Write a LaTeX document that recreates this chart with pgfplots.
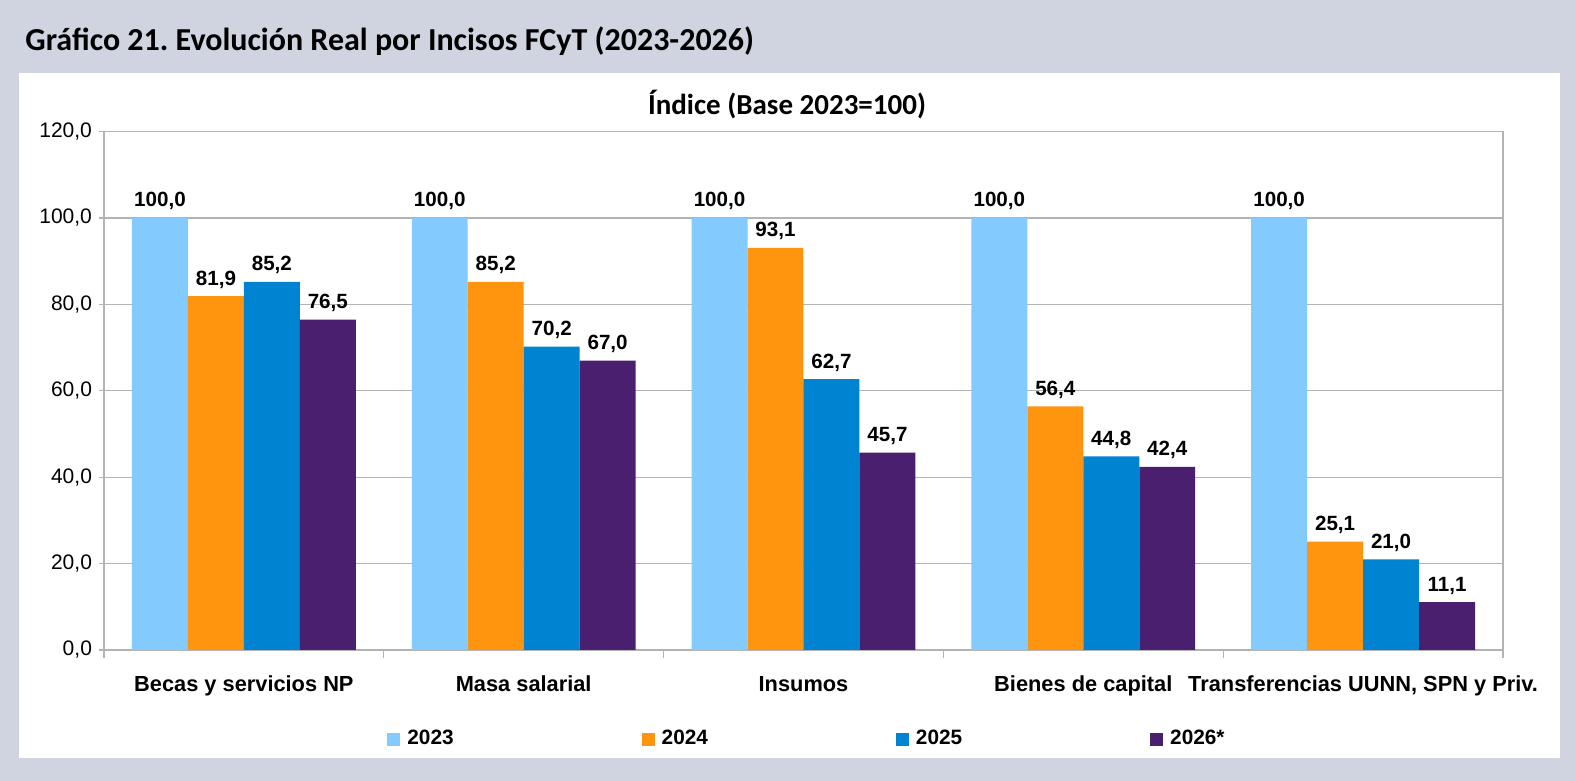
\documentclass[border=0pt]{standalone}
\usepackage{fontspec}
\setmainfont{Liberation Sans}
\newfontfamily\carlito{Carlito}
\usepackage{pgfplots}
\pgfplotsset{compat=1.18}
\definecolor{bg}{HTML}{CFD4E0}
\definecolor{c23}{HTML}{83CAFF}
\definecolor{c24}{HTML}{FF950E}
\definecolor{c25}{HTML}{0084D1}
\definecolor{c26}{HTML}{4B1F6F}
\definecolor{gridc}{HTML}{B3B3B3}
\frenchspacing
\begin{document}
\begin{tikzpicture}
\fill[bg] (0,0) rectangle (788pt,390.5pt);
\fill[white] (9.5pt,11.5pt) rectangle (780pt,354pt);
\node[anchor=base west, inner sep=0pt, font=\carlito\bfseries\fontsize{16}{19}\selectfont] at (12.5pt,365pt) {Gráfico 21. Evolución Real por Incisos FCyT (2023-2026)};
\node[anchor=base, inner sep=0pt, font=\carlito\bfseries\fontsize{14.5}{17}\selectfont] at (393.5pt,333pt) {Índice (Base 2023=100)};
\begin{axis}[
  at={(52pt,65.5pt)}, anchor=south west,
  scale only axis, width=699.5pt, height=259.2pt,
  ybar=0pt, bar width=27.98pt,
  xmin=-0.5, xmax=4.5, ymin=0, ymax=120,
  xtick={0,1,2,3,4},
  xticklabels={Becas y servicios NP, Masa salarial, Insumos, Bienes de capital, {Transferencias UUNN, SPN y Priv.}},
  minor xtick={-0.5,0.5,1.5,2.5,3.5,4.5},
  ytick={0,20,...,120},
  tick pos=left,
  ymajorgrids,
  grid style={gridc, line width=0.6pt},
  axis line style={gridc, line width=0.6pt},
  tick style={gridc, line width=0.6pt},
  tick align=outside,
  major tick length=2.5pt, minor tick length=4pt,
  major x tick style={draw=none},
  xticklabel style={font=\bfseries\fontsize{10.9}{12}\selectfont, anchor=base, yshift=-18.5pt},
  yticklabel style={font=\fontsize{10.5}{12}\selectfont},
  yticklabel={\pgfmathprintnumber[fixed,fixed zerofill,precision=1,use comma,assume math mode=true]{\tick}},
  nodes near coords={\pgfmathprintnumber[fixed,fixed zerofill,precision=1,use comma,assume math mode=true]{\pgfplotspointmeta}},
  every node near coord/.append style={font=\bfseries\fontsize{10.3}{12}\selectfont, anchor=base, yshift=5.5pt, inner sep=0pt, black},
  legend columns=4,
  legend style={at={(0.2023,-0.1717)}, anchor=west, draw=none, fill=none, inner sep=0pt,
    font=\bfseries\fontsize{10.4}{12}\selectfont,
    nodes={inner sep=0pt},
    /tikz/every odd column/.append style={column sep=3.5pt},
    /tikz/every even column/.append style={column sep=94pt}},
  legend image code/.code={\fill[#1] (0pt,-3.25pt) rectangle (6.5pt,3.25pt);},
]
\addplot[fill=c23, draw=none] coordinates {(0,100) (1,100) (2,100) (3,100) (4,100)};
\addplot[fill=c24, draw=none] coordinates {(0,81.9) (1,85.2) (2,93.1) (3,56.4) (4,25.1)};
\addplot[fill=c25, draw=none] coordinates {(0,85.2) (1,70.2) (2,62.7) (3,44.8) (4,21.0)};
\addplot[fill=c26, draw=none] coordinates {(0,76.5) (1,67.0) (2,45.7) (3,42.4) (4,11.1)};
\legend{2023,2024,2025,2026*}
\end{axis}
\pgfresetboundingbox
\path[use as bounding box] (0,0) rectangle (788pt,390.5pt);
\end{tikzpicture}
\end{document}
